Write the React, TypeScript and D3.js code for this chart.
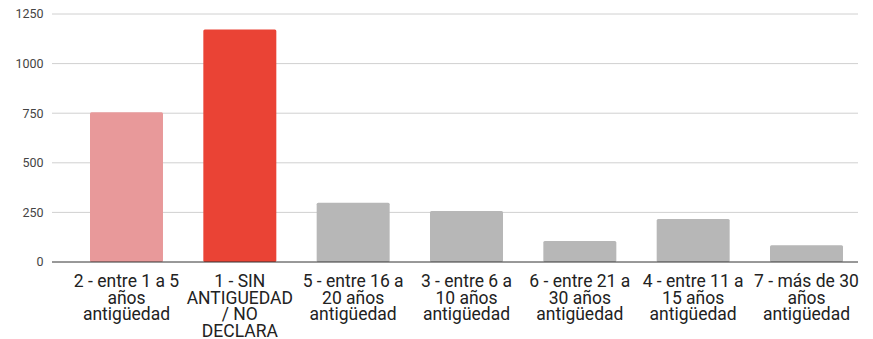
import React from "react";
import * as d3 from "d3";

const categories = [
  "2 - entre 1 a 5\naños\nantigüedad",
  "1 - SIN\nANTIGUEDAD\n/ NO\nDECLARA",
  "5 - entre 16 a\n20 años\nantigüedad",
  "3 - entre 6 a\n10 años\nantigüedad",
  "6 - entre 21 a\n30 años\nantigüedad",
  "4 - entre 11 a\n15 años\nantigüedad",
  "7 - más de 30\naños\nantigüedad",
];
const values = [755, 1172, 299, 257, 106, 217, 85];
const barColors = ["#E8999A", "#EA4335", "#B7B7B7", "#B7B7B7", "#B7B7B7", "#B7B7B7", "#B7B7B7"];
const yTicks = [0, 250, 500, 750, 1000, 1250];

const W = 873;
const H = 339;
const gridLeft = 52;
const gridRight = 858;

export default function App() {
  const y = d3.scaleLinear().domain([0, 1250]).range([262, 14]);
  const x = d3
    .scaleBand<string>()
    .domain(categories)
    .range([90, 843])
    .paddingInner(0.356)
    .paddingOuter(0);

  return (
    <div style={{ position: "fixed", left: 0, top: 0 }}>
      <svg width={W} height={H} style={{ display: "block", background: "#fff" }}>
        {yTicks.map((t) => (
          <g key={t}>
            {t !== 0 && (
              <line x1={gridLeft} x2={gridRight} y1={y(t)} y2={y(t)} stroke="#D0D0D0" strokeWidth={1} />
            )}
            <text
              x={43.5}
              y={y(t)}
              dy="0.35em"
              textAnchor="end"
              fontFamily="Roboto"
              fontSize={12.5}
              fill="#444"
            >
              {t}
            </text>
          </g>
        ))}
        {categories.map((c, i) => (
          <rect
            key={c}
            x={x(c)}
            width={x.bandwidth()}
            y={y(values[i])}
            height={y(0) - y(values[i])}
            fill={barColors[i]}
            rx={1.5}
          />
        ))}
        <line x1={gridLeft} x2={gridRight} y1={y(0)} y2={y(0)} stroke="#333" strokeWidth={1} />
        {categories.map((c) => (
          <text
            key={"l" + c}
            x={(x(c) as number) + x.bandwidth() / 2}
            y={287}
            textAnchor="middle"
            fontFamily="Roboto"
            fontSize={17.5}
            fill="#222"
          >
            {c.split("\n").map((ln, j) => (
              <tspan key={j} x={(x(c) as number) + x.bandwidth() / 2} y={287 + j * 16.7}>
                {ln}
              </tspan>
            ))}
          </text>
        ))}
      </svg>
    </div>
  );
}
